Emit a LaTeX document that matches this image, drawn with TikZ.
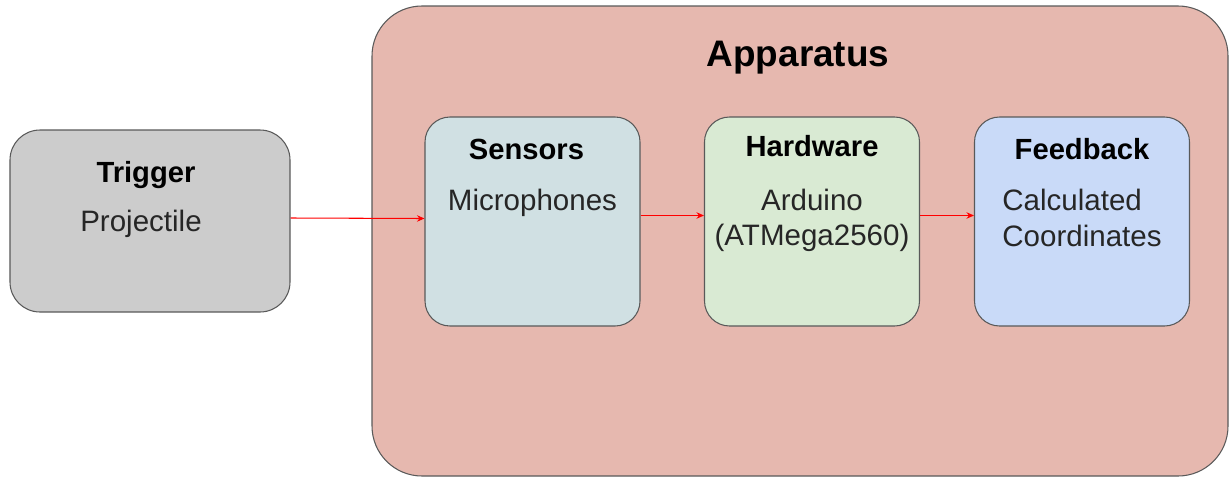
\documentclass[tikz,border=0pt]{standalone}
\usepackage{fontspec}
\setmainfont{Liberation Sans}
\usetikzlibrary{positioning,arrows.meta,calc}
\definecolor{approse}{HTML}{E6B8AF}
\definecolor{trggray}{HTML}{CCCCCC}
\definecolor{sencyan}{HTML}{D0E0E3}
\definecolor{hwgreen}{HTML}{D9EAD3}
\definecolor{fbblue}{HTML}{C9DAF8}
\definecolor{edgegray}{HTML}{595959}
\tikzset{
  appb/.style={draw=edgegray, fill=approse, rounded corners=1cm, line width=0.6pt,
    minimum width=17.12cm, minimum height=9.4cm, inner sep=0pt},
  blk/.style={draw=edgegray, rounded corners=0.5cm, line width=0.6pt,
    minimum width=4.3cm, minimum height=4.18cm, inner sep=0pt},
  trigb/.style={blk, fill=trggray, rounded corners=0.6cm,
    minimum width=5.6cm, minimum height=3.64cm},
  sensb/.style={blk, fill=sencyan},
  hardb/.style={blk, fill=hwgreen},
  feedb/.style={blk, fill=fbblue},
  ttl/.style={font=\fontsize{16.6}{20}\selectfont\bfseries, inner sep=0pt},
  apttl/.style={font=\fontsize{21}{25}\selectfont\bfseries, inner sep=0pt},
  body/.style={font=\fontsize{16.8}{20}\selectfont, align=center, inner sep=0pt,
    text=black!85},
  flow/.style={-{Stealth[length=1.5mm, width=1.3mm]}, line width=0.6pt, draw=red},
}
\begin{document}
\begin{tikzpicture}
  \useasboundingbox (0,0) rectangle (24.6,-9.58);
  % outer box
  \node[appb] (app) at (16.0,-4.82) {};
  \node[apttl] (appt) at (15.96,-1.16) {Apparatus};
  % blocks
  \node[trigb] (trig) at (3.0,-4.42) {};
  \node[sensb] (sens) at (10.65,-4.43) {};
  \node[hardb] (hard) at (16.24,-4.43) {};
  \node[feedb] (feed) at (21.64,-4.43) {};
  % texts
  \node[ttl] (trigt) at ($(trig.north)+(-0.08,-0.92)$) {Trigger};
  \node[body] (trigx) at ($(trig.north)+(-0.18,-1.88)$) {Projectile};
  \node[ttl] (senst) at ($(sens.north)+(-0.12,-0.66)$) {Sensors};
  \node[body] (sensx) at ($(sens.north)+(0,-1.72)$) {Microphones};
  \node[ttl] (hardt) at ($(hard.north)+(0,-0.6)$) {Hardware};
  \node[body] (hardx) at ($(hard.north)+(0,-2.07)$) {Arduino\\(ATMega2560)};
  \node[ttl] (feedt) at ($(feed.north)+(0,-0.66)$) {Feedback};
  \node[body, align=left] (feedx) at ($(feed.north)+(0,-2.03)$) {Calculated\\Coordinates};
  % connectors
  \draw[flow] ([yshift=0.6mm]trig.east) -- ([yshift=0.6mm]sens.west);
  \draw[flow] ([yshift=1.2mm]sens.east) -- ([yshift=1.2mm]hard.west);
  \draw[flow] ([yshift=1.2mm]hard.east) -- ([yshift=1.2mm]feed.west);
\end{tikzpicture}
\end{document}
